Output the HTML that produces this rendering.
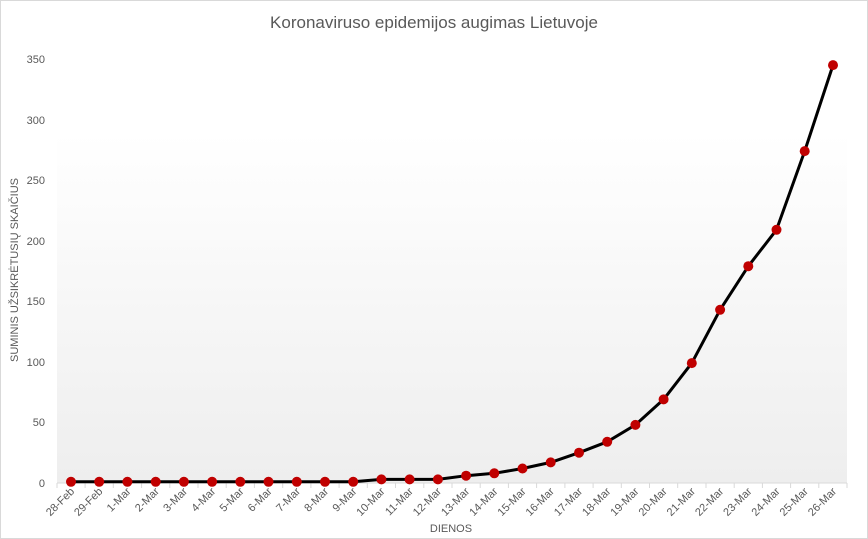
<!DOCTYPE html>
<html><head><meta charset="utf-8"><style>
html,body{margin:0;padding:0;background:#fff}
svg{display:block;font-family:"Liberation Sans",sans-serif}
</style></head><body>
<svg width="868" height="539" viewBox="0 0 868 539" xmlns="http://www.w3.org/2000/svg">
<defs><linearGradient id="g" x1="0" y1="0" x2="0" y2="1">
<stop offset="0" stop-color="#ffffff"/><stop offset="0.2" stop-color="#ffffff"/><stop offset="1" stop-color="#eeeeee"/></linearGradient></defs>
<rect x="0.5" y="0.5" width="867" height="538" fill="#fff" stroke="#d9d9d9"/>
<rect x="57" y="45" width="790" height="438" fill="url(#g)"/>
<text x="434" y="28" text-anchor="middle" font-size="17" fill="#595959">Koronaviruso epidemijos augimas Lietuvoje</text>
<g font-size="11" fill="#595959" text-anchor="end">
<text x="45" y="487">0</text><text x="45" y="426">50</text><text x="45" y="366">100</text><text x="45" y="305">150</text><text x="45" y="245">200</text><text x="45" y="184">250</text><text x="45" y="124">300</text><text x="45" y="63">350</text>
</g>
<text transform="translate(18,270) rotate(-90)" text-anchor="middle" font-size="11" fill="#595959">SUMINIS UŽSIKRĖTUSIŲ SKAIČIUS</text>
<text x="451" y="532" text-anchor="middle" font-size="11" fill="#595959">DIENOS</text>
<line x1="57" y1="483" x2="847" y2="483" stroke="#d9d9d9"/>
<g stroke="#d9d9d9">
<line x1="57" y1="483" x2="57" y2="488"/><line x1="85.1" y1="483" x2="85.1" y2="488"/><line x1="113.3" y1="483" x2="113.3" y2="488"/><line x1="141.6" y1="483" x2="141.6" y2="488"/><line x1="169.8" y1="483" x2="169.8" y2="488"/><line x1="198" y1="483" x2="198" y2="488"/><line x1="226.2" y1="483" x2="226.2" y2="488"/><line x1="254.4" y1="483" x2="254.4" y2="488"/><line x1="282.7" y1="483" x2="282.7" y2="488"/><line x1="310.9" y1="483" x2="310.9" y2="488"/><line x1="339.1" y1="483" x2="339.1" y2="488"/><line x1="367.3" y1="483" x2="367.3" y2="488"/><line x1="395.5" y1="483" x2="395.5" y2="488"/><line x1="423.8" y1="483" x2="423.8" y2="488"/><line x1="452" y1="483" x2="452" y2="488"/><line x1="480.2" y1="483" x2="480.2" y2="488"/><line x1="508.4" y1="483" x2="508.4" y2="488"/><line x1="536.6" y1="483" x2="536.6" y2="488"/><line x1="564.9" y1="483" x2="564.9" y2="488"/><line x1="593.1" y1="483" x2="593.1" y2="488"/><line x1="621.3" y1="483" x2="621.3" y2="488"/><line x1="649.5" y1="483" x2="649.5" y2="488"/><line x1="677.7" y1="483" x2="677.7" y2="488"/><line x1="706" y1="483" x2="706" y2="488"/><line x1="734.2" y1="483" x2="734.2" y2="488"/><line x1="762.4" y1="483" x2="762.4" y2="488"/><line x1="790.6" y1="483" x2="790.6" y2="488"/><line x1="818.8" y1="483" x2="818.8" y2="488"/><line x1="847" y1="483" x2="847" y2="488"/>
</g>
<g font-size="11" fill="#595959" text-anchor="end">
<text transform="translate(75,492) rotate(-45)">28-Feb</text>
<text transform="translate(103.2,492) rotate(-45)">29-Feb</text>
<text transform="translate(131.4,492) rotate(-45)">1-Mar</text>
<text transform="translate(159.7,492) rotate(-45)">2-Mar</text>
<text transform="translate(187.9,492) rotate(-45)">3-Mar</text>
<text transform="translate(216.1,492) rotate(-45)">4-Mar</text>
<text transform="translate(244.3,492) rotate(-45)">5-Mar</text>
<text transform="translate(272.5,492) rotate(-45)">6-Mar</text>
<text transform="translate(300.8,492) rotate(-45)">7-Mar</text>
<text transform="translate(329,492) rotate(-45)">8-Mar</text>
<text transform="translate(357.2,492) rotate(-45)">9-Mar</text>
<text transform="translate(385.4,492) rotate(-45)">10-Mar</text>
<text transform="translate(413.6,492) rotate(-45)">11-Mar</text>
<text transform="translate(441.9,492) rotate(-45)">12-Mar</text>
<text transform="translate(470.1,492) rotate(-45)">13-Mar</text>
<text transform="translate(498.3,492) rotate(-45)">14-Mar</text>
<text transform="translate(526.5,492) rotate(-45)">15-Mar</text>
<text transform="translate(554.7,492) rotate(-45)">16-Mar</text>
<text transform="translate(583,492) rotate(-45)">17-Mar</text>
<text transform="translate(611.2,492) rotate(-45)">18-Mar</text>
<text transform="translate(639.4,492) rotate(-45)">19-Mar</text>
<text transform="translate(667.6,492) rotate(-45)">20-Mar</text>
<text transform="translate(695.8,492) rotate(-45)">21-Mar</text>
<text transform="translate(724.1,492) rotate(-45)">22-Mar</text>
<text transform="translate(752.3,492) rotate(-45)">23-Mar</text>
<text transform="translate(780.5,492) rotate(-45)">24-Mar</text>
<text transform="translate(808.7,492) rotate(-45)">25-Mar</text>
<text transform="translate(837,492) rotate(-45)">26-Mar</text>
</g>
<polyline fill="none" stroke="#000" stroke-width="3" stroke-linejoin="round" points="71,481.8 99.2,481.8 127.4,481.8 155.7,481.8 183.9,481.8 212.1,481.8 240.3,481.8 268.5,481.8 296.8,481.8 325,481.8 353.2,481.8 381.4,479.4 409.6,479.4 437.9,479.4 466.1,475.7 494.3,473.3 522.5,468.5 550.7,462.4 579,452.7 607.2,441.8 635.4,424.9 663.6,399.4 691.8,363.1 720.1,309.8 748.3,266.2 776.5,229.8 804.7,151.1 833,65.1"/>
<g fill="#c00000">
<circle cx="71" cy="481.8" r="5"/><circle cx="99.2" cy="481.8" r="5"/><circle cx="127.4" cy="481.8" r="5"/><circle cx="155.7" cy="481.8" r="5"/><circle cx="183.9" cy="481.8" r="5"/><circle cx="212.1" cy="481.8" r="5"/><circle cx="240.3" cy="481.8" r="5"/><circle cx="268.5" cy="481.8" r="5"/><circle cx="296.8" cy="481.8" r="5"/><circle cx="325" cy="481.8" r="5"/><circle cx="353.2" cy="481.8" r="5"/><circle cx="381.4" cy="479.4" r="5"/><circle cx="409.6" cy="479.4" r="5"/><circle cx="437.9" cy="479.4" r="5"/><circle cx="466.1" cy="475.7" r="5"/><circle cx="494.3" cy="473.3" r="5"/><circle cx="522.5" cy="468.5" r="5"/><circle cx="550.7" cy="462.4" r="5"/><circle cx="579" cy="452.7" r="5"/><circle cx="607.2" cy="441.8" r="5"/><circle cx="635.4" cy="424.9" r="5"/><circle cx="663.6" cy="399.4" r="5"/><circle cx="691.8" cy="363.1" r="5"/><circle cx="720.1" cy="309.8" r="5"/><circle cx="748.3" cy="266.2" r="5"/><circle cx="776.5" cy="229.8" r="5"/><circle cx="804.7" cy="151.1" r="5"/><circle cx="833" cy="65.1" r="5"/>
</g>
</svg>
</body></html>
